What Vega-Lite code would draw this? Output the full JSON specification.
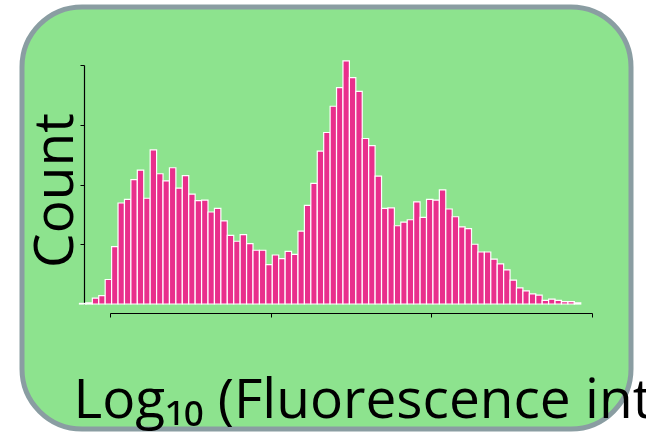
{
  "$schema": "https://vega.github.io/schema/vega-lite/v6.json",
  "width": 609,
  "height": 422,
  "autosize": {"type": "none"},
  "padding": {"left": 22, "top": 7, "right": 15, "bottom": 4},
  "background": "white",
  "config": {
    "view": {"fill": "#8DE38E", "stroke": "#8A9DA2", "strokeWidth": 5, "cornerRadius": 60},
    "axis": {
      "grid": false,
      "labels": false,
      "domainColor": "black",
      "domainWidth": 1.2,
      "tickColor": "black",
      "tickWidth": 1,
      "tickSize": 4,
      "titleFont": "Open Sans",
      "titleFontSize": 55,
      "titleFontWeight": "normal",
      "titleColor": "black"
    }
  },
  "data": {
    "values": [
      {"bin_start": 0.81, "bin_end": 0.85, "count": 1},
      {"bin_start": 0.85, "bin_end": 0.89, "count": 2},
      {"bin_start": 0.89, "bin_end": 0.93, "count": 10},
      {"bin_start": 0.93, "bin_end": 0.97, "count": 14},
      {"bin_start": 0.97, "bin_end": 1.01, "count": 41},
      {"bin_start": 1.01, "bin_end": 1.05, "count": 96},
      {"bin_start": 1.05, "bin_end": 1.09, "count": 169},
      {"bin_start": 1.09, "bin_end": 1.13, "count": 175},
      {"bin_start": 1.13, "bin_end": 1.17, "count": 208},
      {"bin_start": 1.17, "bin_end": 1.21, "count": 224},
      {"bin_start": 1.21, "bin_end": 1.25, "count": 177},
      {"bin_start": 1.25, "bin_end": 1.29, "count": 258},
      {"bin_start": 1.29, "bin_end": 1.33, "count": 218},
      {"bin_start": 1.33, "bin_end": 1.37, "count": 206},
      {"bin_start": 1.37, "bin_end": 1.41, "count": 228},
      {"bin_start": 1.41, "bin_end": 1.45, "count": 194},
      {"bin_start": 1.45, "bin_end": 1.49, "count": 215},
      {"bin_start": 1.49, "bin_end": 1.53, "count": 184},
      {"bin_start": 1.53, "bin_end": 1.57, "count": 173},
      {"bin_start": 1.57, "bin_end": 1.61, "count": 174},
      {"bin_start": 1.61, "bin_end": 1.65, "count": 154},
      {"bin_start": 1.65, "bin_end": 1.69, "count": 160},
      {"bin_start": 1.69, "bin_end": 1.73, "count": 139},
      {"bin_start": 1.73, "bin_end": 1.77, "count": 115},
      {"bin_start": 1.77, "bin_end": 1.81, "count": 105},
      {"bin_start": 1.81, "bin_end": 1.85, "count": 116},
      {"bin_start": 1.85, "bin_end": 1.89, "count": 101},
      {"bin_start": 1.89, "bin_end": 1.93, "count": 90},
      {"bin_start": 1.93, "bin_end": 1.97, "count": 90},
      {"bin_start": 1.97, "bin_end": 2.01, "count": 66},
      {"bin_start": 2.01, "bin_end": 2.05, "count": 82},
      {"bin_start": 2.05, "bin_end": 2.09, "count": 76},
      {"bin_start": 2.09, "bin_end": 2.13, "count": 88},
      {"bin_start": 2.13, "bin_end": 2.17, "count": 83},
      {"bin_start": 2.17, "bin_end": 2.21, "count": 122},
      {"bin_start": 2.21, "bin_end": 2.25, "count": 165},
      {"bin_start": 2.25, "bin_end": 2.29, "count": 202},
      {"bin_start": 2.29, "bin_end": 2.33, "count": 256},
      {"bin_start": 2.33, "bin_end": 2.37, "count": 287},
      {"bin_start": 2.37, "bin_end": 2.41, "count": 331},
      {"bin_start": 2.41, "bin_end": 2.45, "count": 362},
      {"bin_start": 2.45, "bin_end": 2.49, "count": 407},
      {"bin_start": 2.49, "bin_end": 2.53, "count": 379},
      {"bin_start": 2.53, "bin_end": 2.57, "count": 356},
      {"bin_start": 2.57, "bin_end": 2.61, "count": 277},
      {"bin_start": 2.61, "bin_end": 2.65, "count": 265},
      {"bin_start": 2.65, "bin_end": 2.69, "count": 214},
      {"bin_start": 2.69, "bin_end": 2.73, "count": 160},
      {"bin_start": 2.73, "bin_end": 2.77, "count": 161},
      {"bin_start": 2.77, "bin_end": 2.81, "count": 131},
      {"bin_start": 2.81, "bin_end": 2.85, "count": 137},
      {"bin_start": 2.85, "bin_end": 2.89, "count": 141},
      {"bin_start": 2.89, "bin_end": 2.93, "count": 171},
      {"bin_start": 2.93, "bin_end": 2.97, "count": 145},
      {"bin_start": 2.97, "bin_end": 3.01, "count": 175},
      {"bin_start": 3.01, "bin_end": 3.05, "count": 174},
      {"bin_start": 3.05, "bin_end": 3.09, "count": 191},
      {"bin_start": 3.09, "bin_end": 3.13, "count": 159},
      {"bin_start": 3.13, "bin_end": 3.17, "count": 146},
      {"bin_start": 3.17, "bin_end": 3.21, "count": 129},
      {"bin_start": 3.21, "bin_end": 3.25, "count": 126},
      {"bin_start": 3.25, "bin_end": 3.29, "count": 100},
      {"bin_start": 3.29, "bin_end": 3.33, "count": 87},
      {"bin_start": 3.33, "bin_end": 3.37, "count": 87},
      {"bin_start": 3.37, "bin_end": 3.41, "count": 75},
      {"bin_start": 3.41, "bin_end": 3.45, "count": 67},
      {"bin_start": 3.45, "bin_end": 3.49, "count": 57},
      {"bin_start": 3.49, "bin_end": 3.53, "count": 40},
      {"bin_start": 3.53, "bin_end": 3.57, "count": 27},
      {"bin_start": 3.57, "bin_end": 3.61, "count": 22},
      {"bin_start": 3.61, "bin_end": 3.65, "count": 17},
      {"bin_start": 3.65, "bin_end": 3.69, "count": 15},
      {"bin_start": 3.69, "bin_end": 3.73, "count": 6},
      {"bin_start": 3.73, "bin_end": 3.77, "count": 8},
      {"bin_start": 3.77, "bin_end": 3.81, "count": 6},
      {"bin_start": 3.81, "bin_end": 3.85, "count": 4},
      {"bin_start": 3.85, "bin_end": 3.89, "count": 4},
      {"bin_start": 3.89, "bin_end": 3.93, "count": 2}
    ]
  },
  "mark": {"type": "rect", "fill": "#E92F8C", "stroke": "white", "strokeWidth": 1.2},
  "encoding": {
    "x": {
      "field": "bin_start",
      "type": "quantitative",
      "scale": {"domain": [1, 4], "range": [88, 570], "nice": false, "zero": false},
      "axis": {
        "values": [1, 2, 3, 4],
        "offset": -116,
        "title": "Log₁₀ (Fluorescence intensity)",
        "titleX": 51,
        "titleY": 104,
        "titleAlign": "left",
        "titleBaseline": "alphabetic",
        "titleAnchor": "start"
      }
    },
    "x2": {"field": "bin_end"},
    "y": {
      "field": "count",
      "type": "quantitative",
      "scale": {"domain": [0, 400], "range": [297, 58], "nice": false},
      "axis": {
        "values": [100, 200, 300, 400],
        "offset": -62,
        "title": "Count",
        "titleAngle": 270,
        "titleX": -12,
        "titleY": 183,
        "titleAlign": "center",
        "titleBaseline": "alphabetic"
      }
    },
    "y2": {"datum": 0}
  }
}
